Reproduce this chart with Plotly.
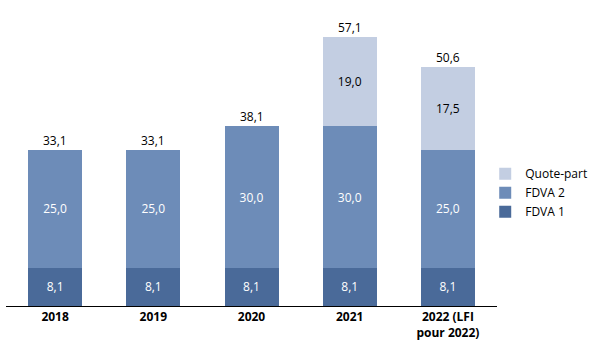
import plotly.graph_objects as go

categories = ["2018", "2019", "2020", "2021", "2022 (LFI<br>pour 2022)"]
fdva1 = [8.1, 8.1, 8.1, 8.1, 8.1]
fdva2 = [25.0, 25.0, 30.0, 30.0, 25.0]
quote_part = [None, None, None, 19.0, 17.5]
totals = [33.1, 33.1, 38.1, 57.1, 50.6]

def fmt(v):
    return "" if v is None else f"{v:.1f}".replace(".", ",")

FONT = "Open Sans"
fig = go.Figure()
fig.add_trace(go.Bar(
    name="FDVA 1", x=categories, y=fdva1, marker_color="#4A6A99",
    marker_line_width=0,
    text=[fmt(v) for v in fdva1], textposition="inside", insidetextanchor="middle",
    textfont=dict(color="white", size=12, family=FONT), constraintext="none",
    hoverinfo="skip"))
fig.add_trace(go.Bar(
    name="FDVA 2", x=categories, y=fdva2, marker_color="#6D8CB8",
    marker_line_width=0,
    text=[fmt(v) for v in fdva2], textposition="inside", insidetextanchor="middle",
    textfont=dict(color="white", size=12, family=FONT), constraintext="none",
    hoverinfo="skip"))
fig.add_trace(go.Bar(
    name="Quote-part", x=categories, y=quote_part, marker_color="#C3CEE2",
    marker_line_width=0,
    text=[fmt(v) for v in quote_part], textposition="inside", insidetextanchor="middle",
    textfont=dict(color="black", size=12, family=FONT), constraintext="none",
    hoverinfo="skip"))

for i, t in enumerate(totals):
    fig.add_annotation(x=i, y=t, xref="x", yref="y", text=fmt(t), showarrow=False,
                       yanchor="bottom", yshift=-1,
                       font=dict(color="black", size=12, family=FONT))

fig.update_layout(
    barmode="stack", bargap=0.45,
    width=600, height=356,
    margin=dict(l=6, r=103, t=23, b=50, autoexpand=False),
    plot_bgcolor="white", paper_bgcolor="white",
    font=dict(family=FONT, size=12, color="black"),
    legend=dict(x=0.976, y=0.40, xanchor="left", yanchor="middle",
                traceorder="reversed", font=dict(size=12, family=FONT),
                itemwidth=30, tracegroupgap=0),
    xaxis=dict(type="category", range=[-0.5, len(categories) - 0.5],
               showline=True, linecolor="black", linewidth=1,
               ticks="", automargin=False, fixedrange=True,
               tickfont=dict(size=12, family=FONT, weight="bold")),
    yaxis=dict(range=[0, 60], visible=False, showgrid=False, automargin=False,
               fixedrange=True),
)
fig.write_html("out.html", config={"displayModeBar": False},
               post_script="document.body.style.margin='0';")
